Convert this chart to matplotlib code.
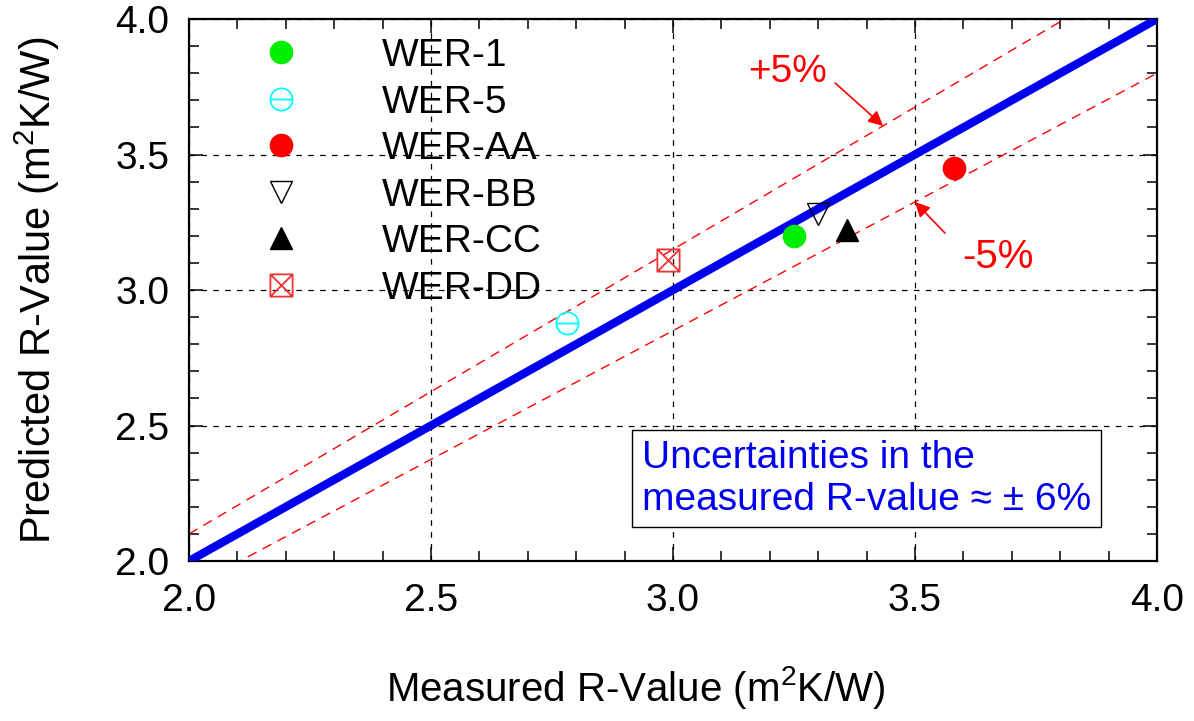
import matplotlib
matplotlib.use('Agg')
import matplotlib.pyplot as plt
import numpy as np
from matplotlib.path import Path

plt.rcParams['font.family'] = ['Liberation Sans', 'DejaVu Sans']
plt.rcParams['mathtext.fontset'] = 'custom'
plt.rcParams['mathtext.rm'] = 'Liberation Sans'
plt.rcParams['mathtext.default'] = 'regular'

# data
series = ['WER-1', 'WER-5', 'WER-AA', 'WER-BB', 'WER-CC', 'WER-DD']
measured = [3.25, 2.78, 3.58, 3.30, 3.36, 2.99]
predicted = [3.20, 2.88, 3.45, 3.28, 3.22, 3.11]
band = 0.05
ticks = [2.0, 2.5, 3.0, 3.5, 4.0]

# custom markers: circle with bar, square with cross
circ = Path.unit_circle()
bar = Path([(-1, 0), (1, 0)], [Path.MOVETO, Path.LINETO])
circ_bar = Path.make_compound_path(circ, bar)
sq = Path([(-1, -1), (1, -1), (1, 1), (-1, 1), (-1, -1)],
          [Path.MOVETO, Path.LINETO, Path.LINETO, Path.LINETO, Path.CLOSEPOLY])
cross = Path([(-1, -1), (1, 1), (-1, 1), (1, -1)],
             [Path.MOVETO, Path.LINETO, Path.MOVETO, Path.LINETO])
sq_cross = Path.make_compound_path(sq, cross)

styles = [
    dict(marker='o', ms=16, mfc='#00ee00', mec='#00ee00'),
    dict(marker=circ_bar, ms=16, mfc='none', mec='cyan', mew=1.3),
    dict(marker='o', ms=16, mfc='red', mec='red'),
    dict(marker='v', ms=16, mfc='none', mec='black', mew=1.0),
    dict(marker='^', ms=16, mfc='black', mec='black'),
    dict(marker=sq_cross, ms=16, mfc='none', mec='#ee3333', mew=1.3),
]

fig = plt.figure(figsize=(11.94, 7.21), dpi=100)
ax = fig.add_axes([0.1583, 0.2219, 0.8107, 0.7517])

xs = np.array([2.0, 4.0])
ax.plot(xs, xs, color='#0000ee', lw=6, solid_capstyle='round', zorder=3)
ax.plot(xs, xs * (1 + band), color='red', lw=1, ls=(0, (7, 5)), zorder=2)
ax.plot(xs, xs * (1 - band), color='red', lw=1, ls=(0, (7, 5)), zorder=2)

handles = []
for name, mx, py, st in zip(series, measured, predicted, styles):
    h, = ax.plot([mx], [py], ls='none', label=name, zorder=4, **st)
    handles.append(h)

ax.set_xlim(2.0, 4.0)
ax.set_ylim(2.0, 4.0)
ax.set_xticks(ticks)
ax.set_yticks(ticks)
ax.set_xticks(np.arange(2.0, 4.01, 0.1), minor=True)
ax.set_yticks(np.arange(2.0, 4.01, 0.1), minor=True)
ax.xaxis.set_major_formatter(matplotlib.ticker.FormatStrFormatter('%.1f'))
ax.yaxis.set_major_formatter(matplotlib.ticker.FormatStrFormatter('%.1f'))
ax.tick_params(which='both', direction='in', top=True, right=True, width=1.1, labelsize=28)
ax.tick_params(which='major', length=10)
ax.tick_params(which='minor', length=7)
ax.tick_params(axis='x', pad=16)
ax.tick_params(axis='y', pad=14)
ax.grid(True, which='major', color='black', lw=0.9, ls=(0, (4.5, 5)))
for sp in ax.spines.values():
    sp.set_linewidth(1.6)

ax.set_xlabel(r'Measured R-Value (m$^2$K/W)', fontsize=29)
ax.set_ylabel(r'Predicted R-Value (m$^2$K/W)', fontsize=30)
ax.xaxis.set_label_coords(0.462, -0.19)
ax.yaxis.set_label_coords(-0.131, 0.5)

ax.legend(handles=handles, loc='upper left', bbox_to_anchor=(0.075, 0.965),
          frameon=False, fontsize=28, handlelength=1.0, handletextpad=2.1,
          labelspacing=0.27, borderpad=0, borderaxespad=0, numpoints=1)

arrow = dict(arrowstyle='-|>', color='red', lw=1.2, mutation_scale=22,
             shrinkA=0, shrinkB=0)
ax.annotate('+5%', xy=(3.434, 3.434 * (1 + band)), xytext=(3.236, 3.804),
            ha='center', va='center', color='red', fontsize=28)
ax.annotate('', xy=(3.434, 3.434 * (1 + band)), xytext=(3.335, 3.764),
            arrowprops=arrow)
ax.annotate('-5%', xy=(3.5, 3.5 * (1 - band)), xytext=(3.672, 3.122),
            ha='center', va='center', color='red', fontsize=29)
ax.annotate('', xy=(3.5, 3.5 * (1 - band)), xytext=(3.562, 3.210),
            arrowprops=arrow)

ax.text(2.936, 2.303, 'Uncertainties in the\nmeasured R-value \u2248 \u00b1 6%',
        ha='left', va='center', color='#0000ee', fontsize=28, linespacing=1.2,
        zorder=5,
        bbox=dict(boxstyle='square,pad=0.25', fc='white', ec='black', lw=1.0))

fig.savefig('out.png', dpi=100)
